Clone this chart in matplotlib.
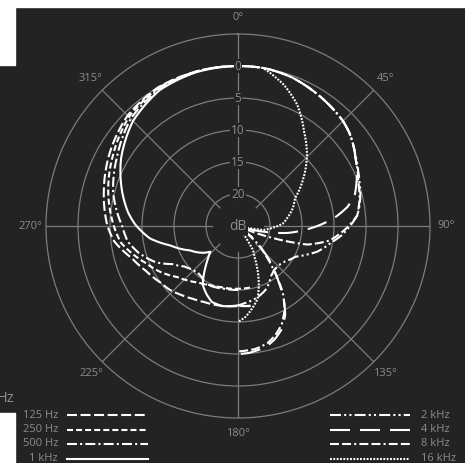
import numpy as np
import matplotlib
matplotlib.use("Agg")
import matplotlib.pyplot as plt
from matplotlib.lines import Line2D
from matplotlib.patches import Rectangle

plt.rcParams['font.family'] = ['Open Sans', 'DejaVu Sans']

# attenuation (dB below 0), angle in degrees clockwise from 0
# low frequencies drawn on the left half, high frequencies on the right half
f125_ang = [171, 180, 195, 204, 212, 220, 227, 234, 244, 253, 263, 270, 285, 300, 315, 330, 345, 360]
f125_att = [12.4, 12.5, 12.2, 12.0, 11.6, 11.0, 10.4, 10.0, 9.0, 7.7, 5.5, 4.6, 3.3, 1.9, 0.6, 0.0, 0.0, 0.0]

f250_ang = [169, 180, 195, 205, 215, 222, 230, 240, 248, 255, 262, 270, 285, 300, 315, 330, 345, 360]
f250_att = [15.2, 15.2, 15.1, 14.8, 14.2, 13.5, 12.6, 10.8, 9.5, 8.0, 6.5, 5.6, 4.0, 2.5, 0.9, 0.1, 0.0, 0.0]

f500_ang = [180, 190, 200, 209, 215, 221, 227, 233, 240, 246, 255, 262, 270, 285, 300, 315, 330, 345, 360]
f500_att = [15.0, 15.0, 14.8, 14.6, 15.2, 15.4, 15.1, 14.5, 13.1, 11.0, 8.9, 7.6, 6.9, 4.8, 3.2, 1.3, 0.3, 0.0, 0.0]

f1k_ang = [172, 180, 191, 199, 205, 211, 218, 222, 227, 232, 238, 243, 254, 262, 271, 277, 286, 300, 315, 330, 345, 360]
f1k_att = [12.35, 12.6, 12.25, 12.45, 13.3, 14.3, 16.7, 17.9, 19.1, 18.2, 17.3, 16.6, 14.0, 11.1, 8.9, 7.7, 6.2, 3.9, 1.8, 0.5, 0.1, 0.0]

f2k_ang = [0, 10, 20, 30, 40, 45, 50, 55, 60, 65, 70, 75, 80, 85, 90, 95, 100, 108, 112, 118,
           127, 134, 141, 147, 151, 157, 164, 169, 175, 180]
f2k_att = [0, 0, 0.3, 0.9, 1.5, 1.8, 2.3, 3.0, 3.7, 4.3, 4.8, 5.2, 5.7, 6.3, 7.5, 8.7, 10.2, 12.0, 13.2, 14.8,
           15.8, 16.2, 16.1, 15.6, 14.9, 14.1, 13.5, 13.2, 12.9, 12.6]

f4k_ang = [0, 10, 20, 30, 40, 45, 50, 55, 60, 65, 70, 75, 80, 85, 90, 95, 98, 102, 106, 110, 125,
           129, 134, 139, 144, 148, 152, 157, 162, 167, 175, 180]
f4k_att = [0, 0, 0.3, 0.9, 1.5, 1.8, 2.3, 3.0, 3.8, 4.5, 5.3, 6.1, 7.6, 9.8, 12.6, 15.5, 17.2, 20.4, 23.5, 25, 25,
           22, 19.8, 16.9, 14.2, 11.5, 9.3, 7.5, 6.4, 5.6, 5.1, 5.0]

f8k_ang = [0, 10, 20, 30, 40, 45, 50, 55, 60, 65, 70, 77, 85, 91, 99, 105, 109, 112, 115, 127,
           132, 137, 142, 146, 151, 156, 161, 166, 172, 180]
f8k_att = [0, 0, 0.3, 0.9, 1.5, 1.8, 2.3, 3.0, 3.8, 4.4, 5.0, 5.5, 6.3, 8.0, 10.5, 13.8, 19.2, 23, 25, 25,
           21, 18.5, 15.5, 12.5, 10.0, 8.2, 7.0, 6.1, 5.6, 5.4]

f16k_ang = [0, 9, 18, 26, 35, 44, 54, 64, 72, 80, 87, 93, 99, 101, 104, 144, 148, 152, 157, 160, 165, 170, 175, 180]
f16k_att = [0, 0, 1.8, 3.9, 7.0, 9.5, 12.4, 15.1, 16.0, 17.1, 18.0, 19.6, 21.0, 23.4, 25, 25,
            20.6, 19.5, 17.0, 15.5, 13.2, 12.0, 10.8, 10.0]

ring_levels = [0, -5, -10, -15, -20]
ring_labels = ['0', '5', '10', '15', '20']
spoke_angles = [0, 45, 90, 135, 180, 225, 270, 315]

bg = '#232323'
grid = '#7c7c7c'
txt = '#8c8c8c'

styles = {
    '125 Hz': (0, (4.8, 1.7)),
    '250 Hz': (0, (2.9, 1.45)),
    '500 Hz': (0, (4.8, 1.5, 1.0, 1.5)),
    '1 kHz': '-',
    '2 kHz': (0, (5.3, 1.5, 1.0, 1.5, 1.0, 1.5)),
    '4 kHz': (0, (9.6, 4.8)),
    '8 kHz': (0, (4.3, 1.5, 4.3, 1.5, 1.0, 1.5)),
    '16 kHz': (0, (0.9, 0.7)),
}
curves = {
    '125 Hz': (f125_ang, f125_att), '250 Hz': (f250_ang, f250_att),
    '500 Hz': (f500_ang, f500_att), '1 kHz': (f1k_ang, f1k_att),
    '2 kHz': (f2k_ang, f2k_att), '4 kHz': (f4k_ang, f4k_att),
    '8 kHz': (f8k_ang, f8k_att), '16 kHz': (f16k_ang, f16k_att),
}

W, H = 465, 463
fig = plt.figure(figsize=(W / 100, H / 100), dpi=100, facecolor=bg)
cx, cy, R = 238, 226, 192
ax = fig.add_axes([(cx - R) / W, (H - cy - R) / H, 2 * R / W, 2 * R / H], projection='polar')
ax.set_facecolor(bg)
ax.set_theta_zero_location('N')
ax.set_theta_direction(-1)
ax.set_rlim(-25, 5)
ax.set_xticks([])
ax.set_rgrids([-20, -15, -10, -5, 0], labels=[''] * 5)
ax.yaxis.grid(True, color=grid, lw=0.9)
ax.spines['polar'].set_color(grid)
ax.spines['polar'].set_linewidth(0.9)

for a in spoke_angles:
    t = np.deg2rad(a)
    ax.plot([t, t], [-21, 5], color=grid, lw=0.9, zorder=1)
    ax.text(t, 7.5, f'{a}°', color=txt, fontsize=8, ha='center', va='center')

for name, (ang, att) in curves.items():
    th = np.deg2rad(ang)
    r = -np.clip(np.array(att, dtype=float), 0, 25)
    ln, = ax.plot(th, r, color='white', lw=1.5, linestyle=styles[name], zorder=3)
    # let the polar transform draw each segment as an arc in (theta, r)
    ln.get_path()._interpolation_steps = 24

for lv, lb in zip(ring_levels, ring_labels):
    ax.text(0, lv, lb, color=txt, fontsize=8.5, ha='center', va='center', zorder=5,
            bbox=dict(facecolor=bg, edgecolor='none', pad=0.6))
ax.text(0, -25, 'dB', color=txt, fontsize=10, ha='center', va='center', zorder=5,
        bbox=dict(facecolor=bg, edgecolor='none', pad=0.8))

# legend
left_names = ['125 Hz', '250 Hz', '500 Hz', '1 kHz']
right_names = ['2 kHz', '4 kHz', '8 kHz', '16 kHz']
rows = [415, 429.5, 444, 458.5]
for name, y in zip(left_names, rows):
    fy = 1 - y / H
    fig.text(58 / W, fy, name, color=txt, fontsize=8, ha='right', va='center')
    fig.add_artist(Line2D([67 / W, 148 / W], [fy, fy], transform=fig.transFigure,
                          color='white', lw=1.5, linestyle=styles[name]))
for name, y in zip(right_names, rows):
    fy = 1 - y / H
    fig.text(421 / W, fy, name, color=txt, fontsize=8, ha='left', va='center')
    fig.add_artist(Line2D([330 / W, 410 / W], [fy, fy], transform=fig.transFigure,
                          color='white', lw=1.5, linestyle=styles[name]))

# cropped screenshot edges
fig.add_artist(Rectangle((0, 1 - 7 / H), 1, 7 / H, transform=fig.transFigure, color='white', zorder=10))
fig.add_artist(Rectangle((0, 1 - 65 / H), 15 / W, 65 / H, transform=fig.transFigure, color='white', zorder=10))
fig.add_artist(Rectangle((0, 0), 15 / W, 50 / H, transform=fig.transFigure, color='white', zorder=10))
fig.text(14 / W, 1 - 398 / H, 'Hz', color=txt, fontsize=10.5, ha='right', va='center')

fig.savefig('out.png', dpi=100, facecolor=bg)
